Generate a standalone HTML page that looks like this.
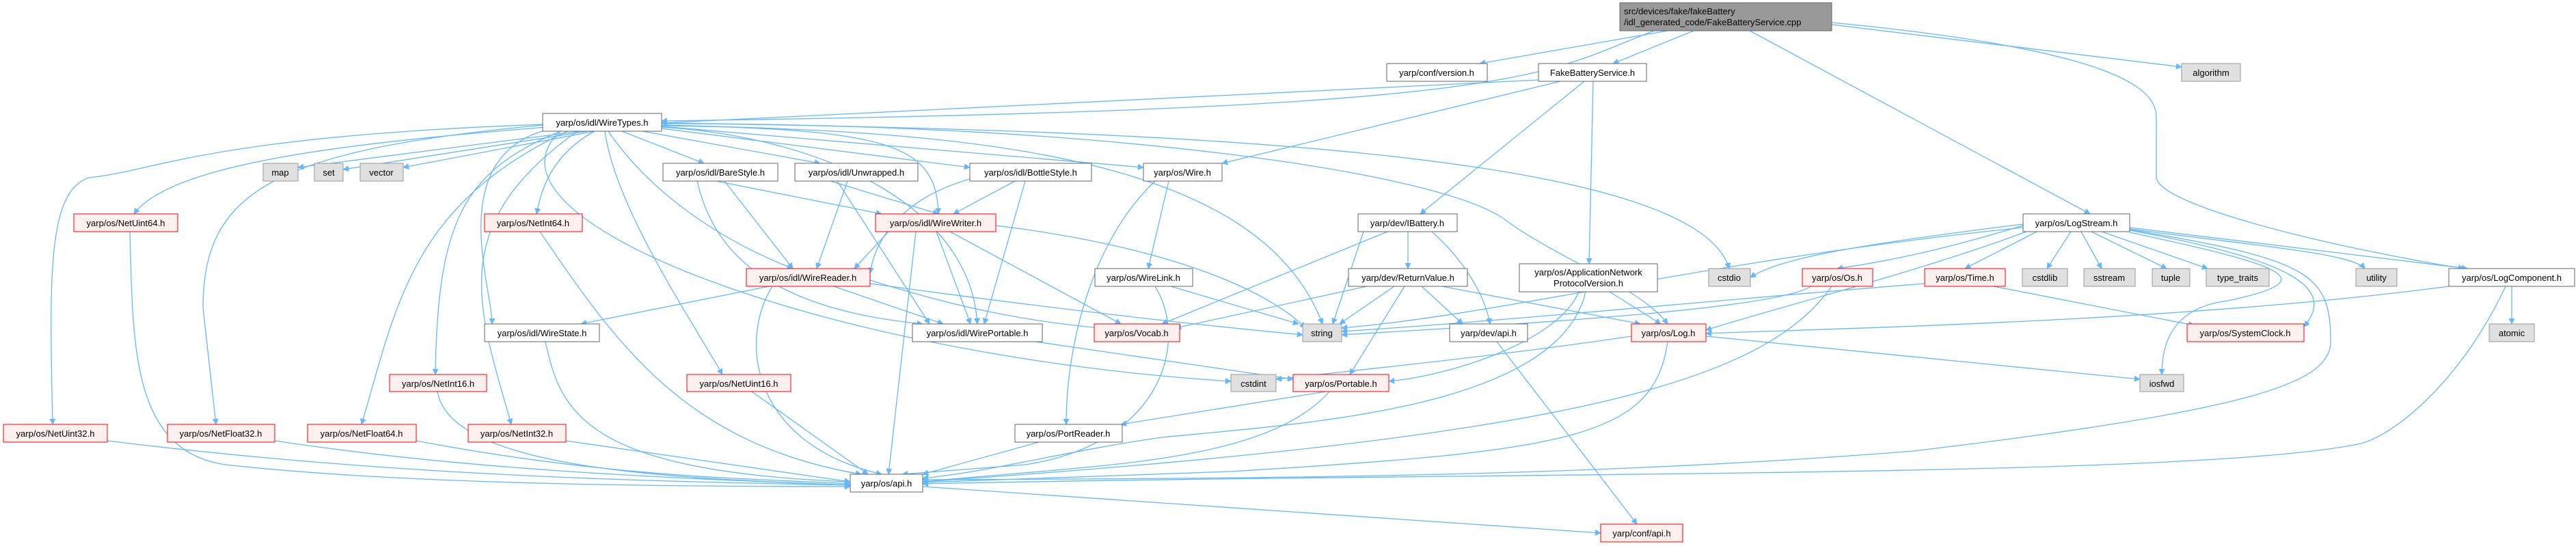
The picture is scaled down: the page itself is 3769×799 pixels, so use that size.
<!DOCTYPE html>
<html><head><meta charset="utf-8"><style>
html,body{margin:0;padding:0;background:#fff;width:3769px;height:799px;overflow:hidden}
svg text{font-family:"Liberation Sans",sans-serif;font-size:13px;fill:#000}
.e{fill:none;stroke:#63b8ff;stroke-width:1.3}
.n{fill:#fff;stroke:#666;stroke-width:1}
.r{fill:#fff0f0;stroke:#f00;stroke-width:1}
.g{fill:#e0e0e0;stroke:#999;stroke-width:1}
.m{fill:#999;stroke:#666;stroke-width:1}
</style></head><body>
<svg width="3769" height="799" xmlns="http://www.w3.org/2000/svg">
<defs><marker id="a" viewBox="0 0 10 10" refX="9" refY="5" markerWidth="7" markerHeight="7" orient="auto"><path d="M0,0 L10,5 L0,10 z" fill="#63b8ff"/></marker></defs>
<g class="e" marker-end="url(#a)">
<path d="M2440,45 L2165,93"/>
<path d="M2478,45 L2360,93"/>
<path d="M2420,45 C2250,110 2250,160 968,177"/>
<path d="M2560,45 L3058,313"/>
<path d="M2680,36 L3192,98"/>
<path d="M2680,33 C3170,80 3155,150 3155,180 L3155,260 C3160,300 3400,360 3605,393"/>
<path d="M2251,117 L968,180"/>
<path d="M2283,119 L1788,239"/>
<path d="M2318,119 L2078,313"/>
<path d="M2331,119 L2325,386"/>
<path d="M850,192 L436,245"/>
<path d="M860,192 L502,248"/>
<path d="M870,192 L590,245"/>
<path d="M910,192 L1030,239"/>
<path d="M940,192 L1200,239"/>
<path d="M968,188 L1419,245"/>
<path d="M968,185 L1673,245"/>
<path d="M968,183 C1300,190 1370,210 1373,313"/>
<path d="M890,192 C950,280 1050,350 1160,393"/>
<path d="M800,190 C650,230 720,420 720,474"/>
<path d="M968,186 C1200,200 1420,300 1430,474"/>
<path d="M800,186 C500,210 250,240 196,313"/>
<path d="M870,192 C800,230 790,290 785,313"/>
<path d="M820,192 C680,250 640,320 637,548"/>
<path d="M885,192 C900,300 1000,450 1057,548"/>
<path d="M794,182 C300,200 230,250 130,260 C70,280 72,400 77,621"/>
<path d="M794,183 C400,220 297,280 297,450 L316,621"/>
<path d="M830,192 C600,300 580,450 529,621"/>
<path d="M845,192 C650,330 700,450 748,621"/>
<path d="M968,184 C1500,190 1850,250 1935,474"/>
<path d="M968,180 C1700,190 2480,220 2530,393"/>
<path d="M820,192 C680,320 1200,520 1801,558"/>
<path d="M968,181 C1600,180 2100,250 2200,320 C2280,380 2400,420 2440,474"/>
<path d="M1048,265 L1290,313"/>
<path d="M1060,265 L1160,393"/>
<path d="M1020,265 C1040,350 1100,450 1350,474"/>
<path d="M1215,265 L1373,313"/>
<path d="M1240,265 L1195,393"/>
<path d="M1225,265 L1360,474"/>
<path d="M1485,265 L1395,313"/>
<path d="M1419,262 C1320,290 1280,350 1273,400"/>
<path d="M1500,265 L1440,474"/>
<path d="M1300,339 L1250,393"/>
<path d="M1370,339 L1420,474"/>
<path d="M1390,339 L1640,474"/>
<path d="M1457,330 C1700,360 1850,420 1910,480"/>
<path d="M1340,339 L1300,694"/>
<path d="M1125,419 L850,474"/>
<path d="M1220,419 L1380,474"/>
<path d="M1273,410 C1400,450 1500,470 1610,480"/>
<path d="M1273,415 C1600,460 1800,480 1906,490"/>
<path d="M1130,419 C1080,500 1100,650 1290,694"/>
<path d="M1710,265 L1680,393"/>
<path d="M1690,265 C1600,350 1560,500 1560,621"/>
<path d="M1713,419 L1900,474"/>
<path d="M1690,419 C1740,500 1700,650 1500,680 L1320,694"/>
<path d="M2030,339 L1700,474"/>
<path d="M1995,339 L1950,474"/>
<path d="M2060,339 L2060,393"/>
<path d="M2095,339 C2130,370 2170,420 2180,474"/>
<path d="M2000,419 L1720,480"/>
<path d="M2040,419 L1960,474"/>
<path d="M2080,419 L2140,474"/>
<path d="M2110,419 L2400,474"/>
<path d="M2055,419 L1975,548"/>
<path d="M2310,427 C2280,500 2120,550 2032,558"/>
<path d="M2355,427 L2430,474"/>
<path d="M2320,427 C2280,600 1900,620 1700,640 C1560,660 1450,690 1350,700"/>
<path d="M1515,500 L1892,555"/>
<path d="M1940,573 L1640,621"/>
<path d="M1945,573 C1850,680 1600,680 1350,705"/>
<path d="M1520,647 L1350,694"/>
<path d="M157,645 C600,700 1000,705 1244,710"/>
<path d="M402,645 C700,690 1000,700 1244,710"/>
<path d="M609,645 C900,700 1100,700 1244,708"/>
<path d="M828,645 L1244,705"/>
<path d="M640,573 C660,690 1000,700 1244,710"/>
<path d="M1100,573 L1270,694"/>
<path d="M190,339 C195,500 190,660 330,680 C600,710 1000,712 1244,712"/>
<path d="M790,339 C900,500 1000,650 1260,694"/>
<path d="M798,500 C820,600 850,690 1244,705"/>
<path d="M2190,500 L2395,767"/>
<path d="M1350,712 L2342,780"/>
<path d="M2387,492 C2200,520 2000,540 1867,555"/>
<path d="M2496,492 L3131,555"/>
<path d="M2440,500 C2420,640 2300,660 1800,690 L1350,706"/>
<path d="M2960,330 C2860,360 2780,380 2688,393"/>
<path d="M2980,339 L2875,393"/>
<path d="M3030,339 L2995,393"/>
<path d="M3045,339 L3075,393"/>
<path d="M3060,339 L3170,393"/>
<path d="M3075,339 L3230,393"/>
<path d="M3116,335 C3300,360 3440,370 3460,393"/>
<path d="M3116,333 L3610,393"/>
<path d="M2960,333 C2500,380 2200,460 1963,480"/>
<path d="M2960,328 C2700,360 2600,380 2561,406"/>
<path d="M2965,339 C2800,400 2600,450 2496,483"/>
<path d="M3116,337 C3350,380 3420,420 3371,478"/>
<path d="M3116,340 C3350,390 3400,410 3260,440 C3180,450 3163,500 3163,548"/>
<path d="M3116,336 C3380,380 3410,400 3410,500 C3410,560 3300,600 2800,660 C2300,700 1800,700 1350,702"/>
<path d="M2650,419 C2600,450 2300,470 1963,490"/>
<path d="M2680,419 C2580,560 2300,640 1350,705"/>
<path d="M2917,419 L3210,476"/>
<path d="M2816,415 C2500,440 2200,470 1963,485"/>
<path d="M3583,419 C3200,470 2700,480 2496,488"/>
<path d="M3675,419 L3675,474"/>
<path d="M3666,419 C3600,560 3500,640 3450,650 C3200,700 2200,690 1350,708"/>
</g>
<g>
<rect class="m" x="2370" y="4" width="310" height="41"/>
<text x="2376" y="21">src/devices/fake/fakeBattery</text>
<text x="2376" y="37">/idl_generated_code/FakeBatteryService.cpp</text>
</g>
<g text-anchor="middle">
<rect class="n" x="2029" y="93" width="147" height="26"/><text x="2102" y="111">yarp/conf/version.h</text>
<rect class="n" x="2251" y="93" width="158" height="26"/><text x="2330" y="111">FakeBatteryService.h</text>
<rect class="g" x="3192" y="93" width="86" height="26"/><text x="3235" y="111">algorithm</text>
<rect class="n" x="794" y="166" width="174" height="26"/><text x="881" y="184">yarp/os/idl/WireTypes.h</text>
<rect class="g" x="385" y="239" width="51" height="26"/><text x="410" y="257">map</text>
<rect class="g" x="460" y="239" width="42" height="26"/><text x="481" y="257">set</text>
<rect class="g" x="527" y="239" width="63" height="26"/><text x="558" y="257">vector</text>
<rect class="n" x="970" y="239" width="168" height="26"/><text x="1054" y="257">yarp/os/idl/BareStyle.h</text>
<rect class="n" x="1163" y="239" width="180" height="26"/><text x="1253" y="257">yarp/os/idl/Unwrapped.h</text>
<rect class="n" x="1419" y="239" width="178" height="26"/><text x="1508" y="257">yarp/os/idl/BottleStyle.h</text>
<rect class="n" x="1673" y="239" width="115" height="26"/><text x="1730" y="257">yarp/os/Wire.h</text>
<rect class="r" x="108" y="313" width="152" height="26"/><text x="184" y="331">yarp/os/NetUint64.h</text>
<rect class="r" x="709" y="313" width="143" height="26"/><text x="780" y="331">yarp/os/NetInt64.h</text>
<rect class="r" x="1281" y="313" width="176" height="26"/><text x="1369" y="331">yarp/os/idl/WireWriter.h</text>
<rect class="n" x="1987" y="313" width="145" height="26"/><text x="2059" y="331">yarp/dev/IBattery.h</text>
<rect class="n" x="2960" y="313" width="156" height="26"/><text x="3038" y="331">yarp/os/LogStream.h</text>
<rect class="r" x="1092" y="393" width="181" height="26"/><text x="1182" y="411">yarp/os/idl/WireReader.h</text>
<rect class="n" x="1602" y="393" width="143" height="26"/><text x="1673" y="411">yarp/os/WireLink.h</text>
<rect class="n" x="1973" y="393" width="174" height="26"/><text x="2060" y="411">yarp/dev/ReturnValue.h</text>
<rect class="n" x="2223" y="386" width="202" height="41"/><text x="2324" y="403">yarp/os/ApplicationNetwork</text><text x="2324" y="419">ProtocolVersion.h</text>
<rect class="g" x="2500" y="393" width="61" height="26"/><text x="2530" y="411">cstdio</text>
<rect class="r" x="2637" y="393" width="103" height="26"/><text x="2688" y="411">yarp/os/Os.h</text>
<rect class="r" x="2816" y="393" width="118" height="26"/><text x="2875" y="411">yarp/os/Time.h</text>
<rect class="g" x="2959" y="393" width="66" height="26"/><text x="2992" y="411">cstdlib</text>
<rect class="g" x="3049" y="393" width="75" height="26"/><text x="3086" y="411">sstream</text>
<rect class="g" x="3149" y="393" width="55" height="26"/><text x="3176" y="411">tuple</text>
<rect class="g" x="3228" y="393" width="92" height="26"/><text x="3274" y="411">type_traits</text>
<rect class="g" x="3447" y="393" width="60" height="26"/><text x="3477" y="411">utility</text>
<rect class="n" x="3583" y="393" width="184" height="26"/><text x="3675" y="411">yarp/os/LogComponent.h</text>
<rect class="n" x="709" y="474" width="168" height="26"/><text x="793" y="492">yarp/os/idl/WireState.h</text>
<rect class="n" x="1335" y="474" width="190" height="26"/><text x="1430" y="492">yarp/os/idl/WirePortable.h</text>
<rect class="r" x="1601" y="474" width="125" height="26"/><text x="1663" y="492">yarp/os/Vocab.h</text>
<rect class="g" x="1906" y="474" width="57" height="26"/><text x="1934" y="492">string</text>
<rect class="n" x="2121" y="474" width="114" height="26"/><text x="2178" y="492">yarp/dev/api.h</text>
<rect class="r" x="2387" y="474" width="109" height="26"/><text x="2441" y="492">yarp/os/Log.h</text>
<rect class="r" x="3200" y="474" width="171" height="26"/><text x="3285" y="492">yarp/os/SystemClock.h</text>
<rect class="g" x="3642" y="474" width="66" height="26"/><text x="3675" y="492">atomic</text>
<rect class="r" x="570" y="548" width="142" height="25"/><text x="641" y="566">yarp/os/NetInt16.h</text>
<rect class="r" x="1005" y="548" width="152" height="25"/><text x="1081" y="566">yarp/os/NetUint16.h</text>
<rect class="g" x="1801" y="548" width="66" height="25"/><text x="1834" y="566">cstdint</text>
<rect class="r" x="1892" y="548" width="140" height="25"/><text x="1962" y="566">yarp/os/Portable.h</text>
<rect class="g" x="3131" y="548" width="64" height="25"/><text x="3163" y="566">iosfwd</text>
<rect class="r" x="5" y="621" width="152" height="26"/><text x="81" y="639">yarp/os/NetUint32.h</text>
<rect class="r" x="245" y="621" width="157" height="26"/><text x="323" y="639">yarp/os/NetFloat32.h</text>
<rect class="r" x="450" y="621" width="159" height="26"/><text x="529" y="639">yarp/os/NetFloat64.h</text>
<rect class="r" x="685" y="621" width="143" height="26"/><text x="756" y="639">yarp/os/NetInt32.h</text>
<rect class="n" x="1485" y="621" width="157" height="26"/><text x="1563" y="639">yarp/os/PortReader.h</text>
<rect class="n" x="1244" y="694" width="106" height="26"/><text x="1297" y="712">yarp/os/api.h</text>
<rect class="r" x="2342" y="767" width="120" height="26"/><text x="2402" y="785">yarp/conf/api.h</text>
</g>
</svg>
</body></html>
